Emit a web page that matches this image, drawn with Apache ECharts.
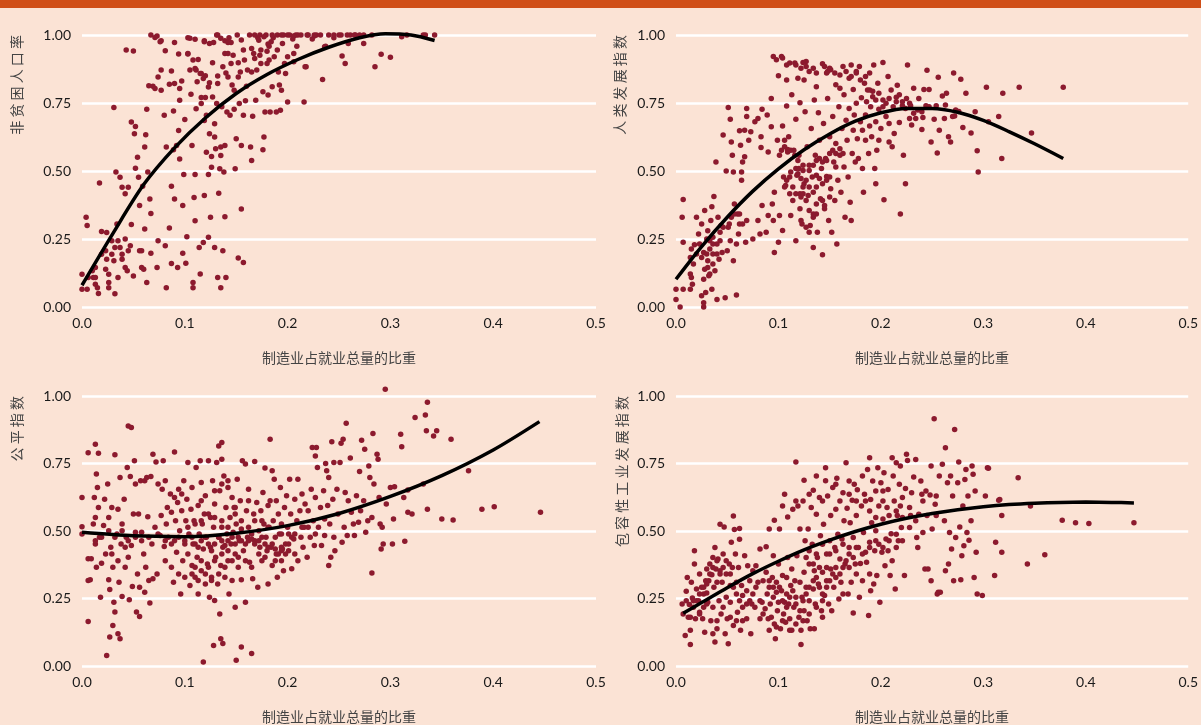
<!DOCTYPE html>
<html><head><meta charset="utf-8">
<script src="https://cdn.jsdelivr.net/npm/echarts@6/dist/echarts.min.js"></script>
<style>html,body{margin:0;padding:0;background:#fbe3d5;}#c{width:1201px;height:725px;}</style>
</head><body><div id="c"></div>
<script>
const xTickLabels = ['0.0','0.1','0.2','0.3','0.4','0.5'];
const yTickLabels = ['0.00','0.25','0.50','0.75','1.00'];
const xAxisTitle = '制造业占就业总量的比重';
const yAxisTitles = ['非贫困人口率','人类发展指数','公平指数','包容性工业发展指数'];

const povertyPts = [[0,0.065],[0.005,0.065],[0,0.12],[0.004,0.33],[0.005,0.30],[0.011,0.108],[0.013,0.145],[0.013,0.084],[0.016,0.05],[0.017,0.456],[0.019,0.278],[0.023,0.139],[0.024,0.274],[0.024,0.176],[0.026,0.09],[0.026,0.071],[0.029,0.244],[0.031,0.17],[0.031,0.733],[0.032,0.049],[0.033,0.496],[0.034,0.305],[0.035,0.108],[0.037,0.477],[0.037,0.219],[0.039,0.44],[0.039,0.176],[0.042,0.416],[0.042,0.25],[0.043,0.945],[0.044,0.133],[0.045,0.44],[0.047,0.225],[0.048,0.68],[0.048,0.303],[0.05,0.941],[0.05,0.114],[0.051,0.637],[0.052,0.664],[0.052,0.51],[0.054,0.551],[0.055,0.477],[0.056,0.373],[0.056,0.207],[0.058,0.145],[0.059,0.444],[0.061,0.287],[0.061,0.588],[0.062,0.633],[0.063,0.727],[0.064,0.496],[0.063,0.09],[0.065,0.813],[0.066,0.397],[0.067,0.344],[0.067,0.198],[0.069,0.812],[0.071,0.803],[0.073,0.996],[0.074,0.846],[0.073,0.145],[0.074,0.244],[0.077,0.797],[0.077,0.979],[0.08,0.705],[0.081,0.942],[0.081,0.225],[0.082,0.588],[0.082,0.071],[0.085,0.29],[0.085,0.819],[0.087,0.868],[0.087,0.444],[0.087,0.16],[0.089,0.721],[0.089,0.578],[0.09,0.397],[0.09,0.972],[0.092,0.594],[0.093,0.145],[0.094,0.649],[0.094,0.93],[0.095,0.544],[0.095,0.803],[0.097,0.831],[0.098,0.198],[0.098,0.373],[0.099,0.487],[0.1,0.689],[0.101,0.161],[0.102,0.258],[0.103,0.99],[0.103,0.93],[0.105,0.871],[0.106,0.782],[0.107,0.594],[0.108,0.09],[0.108,0.071],[0.109,0.403],[0.11,0.487],[0.11,0.877],[0.11,0.317],[0.111,0.729],[0.112,0.828],[0.113,0.91],[0.114,0.219],[0.115,0.121],[0.116,0.77],[0.116,0.858],[0.118,0.237],[0.119,0.979],[0.119,0.41],[0.12,0.77],[0.121,0.705],[0.121,0.569],[0.123,0.256],[0.123,0.487],[0.124,0.824],[0.125,0.33],[0.126,0.514],[0.126,0.553],[0.127,0.898],[0.128,0.972],[0.129,0.219],[0.129,0.674],[0.13,0.582],[0.131,0.748],[0.131,1.0],[0.132,0.849],[0.132,0.108],[0.133,0.418],[0.134,0.508],[0.135,0.557],[0.135,0.071],[0.136,0.736],[0.137,0.207],[0.138,0.496],[0.139,0.932],[0.139,0.594],[0.139,0.332],[0.14,0.108],[0.141,0.717],[0.142,0.846],[0.144,0.705],[0.145,0.972],[0.146,0.816],[0.147,0.926],[0.148,0.727],[0.148,0.797],[0.149,0.508],[0.15,0.619],[0.151,1.0],[0.152,0.18],[0.152,0.898],[0.153,0.748],[0.154,0.864],[0.155,0.594],[0.155,0.36],[0.157,0.705],[0.157,0.164],[0.157,0.945],[0.158,0.908],[0.159,0.758],[0.16,0.812],[0.163,1.0],[0.164,0.588],[0.165,0.539],[0.165,0.864],[0.166,0.701],[0.167,0.932],[0.169,0.76],[0.17,0.871],[0.172,0.981],[0.173,0.926],[0.174,0.895],[0.176,0.578],[0.176,0.791],[0.177,0.625],[0.178,0.717],[0.179,1.0],[0.18,0.895],[0.181,0.779],[0.182,0.959],[0.183,0.717],[0.184,0.975],[0.185,0.81],[0.187,0.92],[0.189,0.717],[0.19,1.0],[0.191,0.864],[0.192,0.816],[0.193,0.723],[0.194,0.797],[0.195,0.969],[0.196,1.0],[0.198,0.858],[0.2,0.754],[0.202,1.0],[0.206,0.902],[0.208,1.0],[0.209,0.959],[0.216,0.754],[0.218,0.883],[0.219,1.0],[0.226,0.996],[0.234,0.836],[0.237,0.959],[0.24,1.0],[0.253,0.923],[0.256,0.895],[0.259,0.969],[0.261,1.0],[0.27,1.0],[0.21,1.0],[0.217,0.883],[0.22,1.0],[0.228,1.0],[0.236,0.957],[0.25,1.0],[0.258,1.0],[0.266,1.0],[0.274,1.0],[0.274,0.969],[0.282,1.0],[0.285,0.883],[0.291,0.929],[0.3,0.918],[0.311,0.994],[0.316,1.0],[0.332,1.0],[0.334,1.0],[0.343,1.0],[0.143,0.99],[0.171,0.99],[0.186,0.99],[0.205,0.985],[0.224,0.985],[0.245,0.99],[0.18,0.94],[0.165,0.95],[0.14,0.86],[0.12,0.85],[0.2,0.92],
[0.067,1.0],[0.071,0.991],[0.076,0.975],[0.105,0.988],[0.11,0.984],[0.119,0.975],[0.124,0.969],[0.132,1.0],[0.135,0.988],[0.139,0.979],[0.142,0.972],[0.155,0.982],[0.168,1.0],[0.173,1.0],[0.177,0.994],[0.181,0.967],[0.185,1.0],[0.194,1.0],[0.2,1.0],[0.206,0.996],[0.213,1.0],[0.226,1.0],[0.232,1.0],[0.245,1.0],[0.252,1.0],[0.265,1.0],[0.103,0.932],[0.108,0.908],[0.111,0.871],[0.115,0.858],[0.118,0.84],[0.123,0.809],[0.127,0.772],[0.132,0.822],[0.137,0.883],[0.142,0.932],[0.145,0.895],[0.152,0.846],[0.161,0.871],[0.168,0.914],[0.174,0.945],[0.182,0.908],[0.19,0.945],[0.197,0.895],[0.206,0.932],[0.119,0.686],[0.124,0.637],[0.129,0.625],[0.135,0.588],[0.116,0.748],[0.09,0.822],[0.077,0.871],[0.095,0.76],[0.006,0.108],[0.01,0.133],[0.013,0.108],[0.015,0.071],[0.019,0.194],[0.023,0.207],[0.026,0.12],[0.029,0.194],[0.032,0.219],[0.035,0.244],[0.039,0.194],[0.042,0.145],[0.045,0.207],[0.058,0.207],[0.06,0.139]];
const povertyFit = [[0,0.08],[0.03,0.27],[0.06,0.45],[0.09,0.585],[0.12,0.695],[0.15,0.785],[0.18,0.855],[0.21,0.91],[0.24,0.955],[0.27,0.99],[0.295,1.005],[0.32,1.0],[0.343,0.98]];

const hdiPts = [[0,0.065],[0,0.028],[0.004,0],[0.007,0.065],[0.006,0.33],[0.007,0.395],[0.007,0.238],[0.014,0.065],[0.014,0.121],[0.015,0.108],[0.015,0.213],[0.016,0.084],[0.018,0.229],[0.02,0.33],[0.022,0.268],[0.025,0.305],[0.025,0.041],[0.027,0],[0.027,0.016],[0.027,0.2],[0.028,0.355],[0.028,0.139],[0.029,0.053],[0.03,0.25],[0.031,0.17],[0.031,0.28],[0.032,0.115],[0.033,0.213],[0.034,0.318],[0.035,0.369],[0.035,0.065],[0.036,0.195],[0.036,0.256],[0.037,0.406],[0.038,0.133],[0.039,0.533],[0.04,0.232],[0.04,0.028],[0.041,0.33],[0.042,0.176],[0.043,0.275],[0.044,0.3],[0.045,0.2],[0.046,0.632],[0.048,0.034],[0.049,0.5],[0.05,0.207],[0.051,0.733],[0.052,0.305],[0.053,0.69],[0.053,0.244],[0.054,0.607],[0.055,0.558],[0.056,0.496],[0.056,0.17],[0.057,0.379],[0.059,0.044],[0.059,0.232],[0.06,0.342],[0.062,0.305],[0.062,0.648],[0.063,0.595],[0.064,0.496],[0.064,0.466],[0.065,0.533],[0.065,0.305],[0.067,0.552],[0.067,0.65],[0.068,0.238],[0.069,0.73],[0.069,0.7],[0.069,0.318],[0.071,0.613],[0.073,0.644],[0.075,0.25],[0.077,0.681],[0.08,0.318],[0.08,0.693],[0.082,0.268],[0.083,0.626],[0.083,0.586],[0.084,0.727],[0.084,0.373],[0.088,0.275],[0.089,0.706],[0.09,0.57],[0.09,0.336],[0.093,0.767],[0.093,0.663],[0.094,0.379],[0.095,0.921],[0.095,0.318],[0.096,0.422],[0.096,0.2],[0.098,0.909],[0.099,0.613],[0.1,0.238],[0.1,0.85],[0.101,0.336],[0.101,0.558],[0.103,0.921],[0.104,0.281],[0.104,0.665],[0.105,0.478],[0.106,0.613],[0.107,0.447],[0.108,0.89],[0.108,0.739],[0.108,0.835],[0.109,0.579],[0.11,0.626],[0.112,0.336],[0.112,0.496],[0.113,0.78],[0.114,0.441],[0.115,0.576],[0.116,0.897],[0.117,0.244],[0.117,0.69],[0.118,0.484],[0.119,0.841],[0.12,0.558],[0.121,0.416],[0.121,0.751],[0.122,0.878],[0.123,0.305],[0.124,0.521],[0.125,0.835],[0.125,0.453],[0.126,0.718],[0.127,0.903],[0.128,0.589],[0.129,0.41],[0.13,0.502],[0.13,0.866],[0.131,0.3],[0.132,0.656],[0.133,0.478],[0.134,0.33],[0.134,0.219],[0.135,0.761],[0.136,0.558],[0.137,0.441],[0.137,0.81],[0.138,0.275],[0.139,0.714],[0.14,0.613],[0.141,0.398],[0.142,0.509],[0.143,0.192],[0.143,0.894],[0.144,0.675],[0.145,0.373],[0.146,0.546],[0.147,0.86],[0.147,0.48],[0.148,0.767],[0.149,0.318],[0.15,0.626],[0.151,0.435],[0.151,0.872],[0.152,0.275],[0.153,0.7],[0.154,0.533],[0.155,0.392],[0.156,0.817],[0.156,0.601],[0.157,0.232],[0.158,0.466],[0.159,0.736],[0.16,0.558],[0.16,0.804],[0.161,0.422],[0.162,0.656],[0.163,0.884],[0.164,0.515],[0.164,0.78],[0.165,0.33],[0.166,0.687],[0.167,0.613],[0.168,0.478],[0.169,0.841],[0.169,0.73],[0.17,0.385],[0.171,0.318],[0.171,0.89],[0.172,0.564],[0.173,0.65],[0.173,0.8],[0.174,0.706],[0.175,0.533],[0.176,0.866],[0.176,0.749],[0.177,0.619],[0.178,0.546],[0.179,0.884],[0.18,0.681],[0.181,0.769],[0.182,0.509],[0.182,0.65],[0.183,0.422],[0.184,0.823],[0.185,0.613],[0.185,0.706],[0.186,0.755],[0.187,0.798],[0.188,0.564],[0.189,0.86],[0.189,0.665],[0.19,0.736],[0.191,0.626],[0.192,0.793],[0.193,0.89],[0.194,0.509],[0.195,0.453],[0.195,0.681],[0.196,0.576],[0.197,0.823],[0.198,0.727],[0.198,0.613],[0.2,0.656],[0.202,0.761],[0.202,0.899],[0.203,0.394],[0.205,0.7],[0.207,0.847],[0.208,0.607],[0.208,0.675],[0.21,0.798],[0.211,0.589],[0.212,0.736],[0.213,0.638],[0.215,0.771],[0.216,0.815],[0.218,0.678],[0.219,0.342],[0.221,0.74],[0.222,0.558],[0.224,0.453],[0.225,0.767],[0.226,0.89],[0.228,0.693],[0.229,0.74],[0.23,0.669],[0.232,0.804],[0.234,0.693],[0.237,0.767],[0.24,0.653],[0.241,0.697],[0.242,0.8],[0.244,0.74],[0.245,0.87],[0.247,0.8],[0.249,0.607],[0.252,0.69],[0.254,0.74],[0.255,0.566],[0.256,0.845],[0.257,0.65],[0.26,0.776],[0.262,0.693],[0.264,0.786],[0.266,0.626],[0.268,0.607],[0.271,0.86],[0.272,0.702],[0.276,0.719],[0.278,0.837],[0.28,0.66],[0.283,0.786],[0.288,0.64],[0.292,0.718],[0.294,0.574],[0.295,0.496],[0.303,0.808],[0.305,0.681],[0.315,0.7],[0.318,0.546],[0.319,0.786],[0.335,0.808],[0.347,0.64],[0.378,0.808],
[0.103,0.576],[0.106,0.589],[0.109,0.57],[0.112,0.576],[0.116,0.558],[0.119,0.539],[0.117,0.509],[0.12,0.509],[0.124,0.502],[0.119,0.49],[0.122,0.472],[0.127,0.466],[0.13,0.521],[0.134,0.521],[0.137,0.539],[0.14,0.546],[0.143,0.533],[0.147,0.539],[0.15,0.564],[0.153,0.576],[0.156,0.564],[0.16,0.582],[0.163,0.564],[0.156,0.515],[0.137,0.484],[0.14,0.472],[0.143,0.453],[0.147,0.466],[0.15,0.478],[0.13,0.441],[0.134,0.422],[0.124,0.441],[0.117,0.416],[0.122,0.404],[0.127,0.392],[0.137,0.379],[0.143,0.392],[0.13,0.355],[0.137,0.342],[0.145,0.361],[0.15,0.404],[0.111,0.478],[0.108,0.466],[0.106,0.441],[0.111,0.416],[0.114,0.392],[0.121,0.361],[0.122,0.318],[0.127,0.293],[0.13,0.275],[0.134,0.342],[0.124,0.416],[0.104,0.915],[0.111,0.897],[0.117,0.89],[0.124,0.899],[0.127,0.884],[0.134,0.878],[0.137,0.86],[0.145,0.884],[0.148,0.866],[0.15,0.878],[0.155,0.86],[0.16,0.853],[0.166,0.866],[0.171,0.847],[0.176,0.86],[0.18,0.835],[0.185,0.847],[0.189,0.798],[0.192,0.773],[0.195,0.761],[0.198,0.786],[0.202,0.736],[0.205,0.749],[0.208,0.767],[0.215,0.755],[0.218,0.78],[0.221,0.755],[0.224,0.73],[0.228,0.749],[0.232,0.712],[0.236,0.724],[0.24,0.718],[0.247,0.736],[0.263,0.743],[0.27,0.7],[0.273,0.724],[0.014,0.182],[0.017,0.158],[0.02,0.195],[0.023,0.232],[0.025,0.182],[0.03,0.195],[0.033,0.244],[0.036,0.232],[0.04,0.195],[0.043,0.244],[0.046,0.293],[0.051,0.293],[0.054,0.33],[0.057,0.342],[0.061,0.268],[0.062,0.342],[0.036,0.158],[0.031,0.145],[0.033,0.121],[0.027,0.102]];
const hdiFit = [[0,0.102],[0.025,0.222],[0.05,0.33],[0.075,0.426],[0.1,0.508],[0.125,0.578],[0.15,0.636],[0.175,0.683],[0.2,0.714],[0.225,0.73],[0.25,0.73],[0.275,0.716],[0.3,0.686],[0.325,0.645],[0.35,0.6],[0.378,0.546]];

const equityPts = [[0,0.516],[0,0.624],[0,0.489],[0.006,0.79],[0.006,0.397],[0.006,0.317],[0.006,0.165],[0.008,0.319],[0.009,0.397],[0.011,0.526],[0.012,0.624],[0.013,0.821],[0.013,0.55],[0.013,0.452],[0.014,0.711],[0.014,0.366],[0.015,0.661],[0.016,0.788],[0.016,0.587],[0.017,0.477],[0.018,0.255],[0.019,0.381],[0.021,0.52],[0.022,0.618],[0.023,0.415],[0.024,0.039],[0.025,0.674],[0.026,0.55],[0.026,0.319],[0.027,0.283],[0.027,0.107],[0.028,0.44],[0.029,0.587],[0.03,0.366],[0.03,0.15],[0.031,0.236],[0.032,0.782],[0.032,0.2],[0.034,0.489],[0.035,0.581],[0.035,0.119],[0.036,0.31],[0.037,0.101],[0.037,0.698],[0.038,0.452],[0.039,0.257],[0.039,0.526],[0.041,0.618],[0.042,0.366],[0.043,0.477],[0.044,0.735],[0.045,0.889],[0.045,0.403],[0.046,0.245],[0.047,0.702],[0.048,0.883],[0.048,0.446],[0.049,0.294],[0.05,0.563],[0.051,0.76],[0.052,0.495],[0.052,0.674],[0.053,0.2],[0.054,0.341],[0.055,0.563],[0.056,0.183],[0.056,0.292],[0.057,0.686],[0.058,0.495],[0.06,0.415],[0.061,0.686],[0.061,0.273],[0.062,0.366],[0.063,0.698],[0.064,0.553],[0.065,0.317],[0.066,0.233],[0.067,0.702],[0.068,0.452],[0.069,0.784],[0.069,0.323],[0.071,0.514],[0.072,0.756],[0.073,0.341],[0.074,0.674],[0.076,0.483],[0.077,0.557],[0.078,0.655],[0.079,0.76],[0.08,0.443],[0.081,0.686],[0.081,0.39],[0.082,0.526],[0.083,0.587],[0.084,0.477],[0.086,0.637],[0.087,0.366],[0.087,0.569],[0.089,0.31],[0.09,0.793],[0.09,0.464],[0.091,0.538],[0.092,0.421],[0.093,0.606],[0.094,0.655],[0.094,0.341],[0.095,0.501],[0.096,0.267],[0.097,0.575],[0.098,0.39],[0.099,0.686],[0.1,0.452],[0.1,0.329],[0.101,0.538],[0.102,0.618],[0.103,0.415],[0.103,0.754],[0.104,0.489],[0.105,0.298],[0.106,0.581],[0.107,0.372],[0.107,0.661],[0.108,0.452],[0.109,0.538],[0.11,0.329],[0.111,0.735],[0.112,0.403],[0.113,0.267],[0.113,0.594],[0.114,0.489],[0.115,0.76],[0.116,0.353],[0.116,0.68],[0.117,0.526],[0.118,0.015],[0.118,0.433],[0.119,0.563],[0.12,0.304],[0.12,0.631],[0.121,0.477],[0.122,0.378],[0.123,0.76],[0.124,0.255],[0.125,0.55],[0.125,0.44],[0.126,0.329],[0.127,0.686],[0.128,0.076],[0.128,0.514],[0.129,0.243],[0.129,0.6],[0.13,0.403],[0.131,0.754],[0.132,0.304],[0.133,0.815],[0.133,0.477],[0.134,0.193],[0.134,0.649],[0.135,0.101],[0.135,0.372],[0.136,0.828],[0.136,0.538],[0.136,0.766],[0.137,0.083],[0.137,0.44],[0.138,0.704],[0.139,0.329],[0.14,0.587],[0.141,0.489],[0.142,0.661],[0.142,0.39],[0.143,0.267],[0.144,0.55],[0.145,0.452],[0.146,0.317],[0.146,0.624],[0.147,0.495],[0.148,0.587],[0.149,0.415],[0.149,0.218],[0.15,0.021],[0.15,0.526],[0.151,0.692],[0.152,0.366],[0.153,0.464],[0.154,0.612],[0.155,0.319],[0.155,0.07],[0.155,0.507],[0.156,0.76],[0.157,0.427],[0.159,0.236],[0.159,0.748],[0.16,0.575],[0.161,0.477],[0.162,0.655],[0.163,0.384],[0.165,0.046],[0.165,0.489],[0.166,0.323],[0.167,0.563],[0.168,0.757],[0.168,0.464],[0.17,0.606],[0.171,0.292],[0.172,0.501],[0.173,0.44],[0.174,0.575],[0.175,0.39],[0.176,0.643],[0.177,0.526],[0.178,0.733],[0.179,0.477],[0.18,0.427],[0.181,0.594],[0.181,0.304],[0.182,0.514],[0.183,0.84],[0.183,0.612],[0.184,0.44],[0.185,0.723],[0.185,0.372],[0.186,0.538],[0.187,0.692],[0.188,0.477],[0.189,0.612],[0.189,0.415],[0.19,0.329],[0.191,0.563],[0.192,0.489],[0.193,0.661],[0.194,0.39],[0.194,0.526],[0.195,0.433],[0.196,0.353],[0.197,0.587],[0.198,0.452],[0.199,0.631],[0.2,0.514],[0.201,0.427],[0.202,0.692],[0.203,0.563],[0.204,0.36],[0.206,0.47],[0.207,0.618],[0.207,0.415],[0.209,0.538],[0.21,0.692],[0.21,0.39],[0.212,0.575],[0.213,0.477],[0.214,0.637],[0.215,0.44],[0.216,0.514],[0.217,0.6],[0.219,0.403],[0.22,0.575],[0.222,0.477],[0.223,0.655],[0.224,0.809],[0.225,0.538],[0.226,0.446],[0.227,0.778],[0.227,0.624],[0.228,0.809],[0.229,0.735],[0.23,0.514],[0.232,0.587],[0.233,0.446],[0.235,0.649],[0.236,0.483],[0.236,0.544],[0.237,0.75],[0.238,0.723],[0.239,0.594],[0.24,0.372],[0.24,0.698],[0.241,0.526],[0.242,0.403],[0.243,0.831],[0.244,0.618],[0.245,0.754],[0.245,0.477],[0.246,0.427],[0.248,0.655],[0.249,0.563],[0.251,0.754],[0.252,0.825],[0.253,0.458],[0.254,0.84],[0.255,0.514],[0.256,0.643],[0.257,0.899],[0.258,0.483],[0.259,0.612],[0.261,0.77],[0.262,0.569],[0.264,0.526],[0.265,0.483],[0.267,0.631],[0.269,0.532],[0.27,0.72],[0.271,0.575],[0.272,0.836],[0.274,0.612],[0.275,0.803],[0.276,0.495],[0.278,0.538],[0.279,0.741],[0.28,0.698],[0.282,0.344],[0.282,0.55],[0.283,0.861],[0.284,0.674],[0.287,0.784],[0.288,0.766],[0.289,0.624],[0.29,0.526],[0.291,0.433],[0.292,0.514],[0.293,0.452],[0.295,1.025],[0.296,0.6],[0.3,0.661],[0.302,0.452],[0.303,0.544],[0.304,0.664],[0.31,0.858],[0.311,0.812],[0.313,0.624],[0.314,0.462],[0.317,0.569],[0.317,0.652],[0.321,0.563],[0.324,0.92],[0.332,0.674],[0.334,0.93],[0.335,0.871],[0.336,0.977],[0.336,0.581],[0.342,0.852],[0.345,0.871],[0.35,0.544],[0.359,0.84],[0.361,0.541],[0.376,0.723],[0.389,0.581],[0.401,0.59],[0.446,0.569],
[0.094,0.477],[0.1,0.464],[0.107,0.477],[0.11,0.452],[0.113,0.44],[0.116,0.464],[0.12,0.477],[0.123,0.452],[0.126,0.427],[0.129,0.452],[0.133,0.477],[0.136,0.464],[0.139,0.446],[0.142,0.464],[0.146,0.477],[0.149,0.452],[0.152,0.477],[0.155,0.464],[0.159,0.452],[0.162,0.464],[0.165,0.47],[0.168,0.452],[0.172,0.464],[0.175,0.477],[0.178,0.452],[0.181,0.44],[0.185,0.452],[0.188,0.433],[0.191,0.415],[0.194,0.44],[0.198,0.415],[0.201,0.452],[0.204,0.477],[0.207,0.489],[0.142,0.427],[0.136,0.415],[0.129,0.39],[0.123,0.366],[0.116,0.39],[0.11,0.366],[0.107,0.341],[0.113,0.317],[0.12,0.341],[0.126,0.317],[0.133,0.341],[0.139,0.366],[0.146,0.39],[0.152,0.403],[0.159,0.39],[0.165,0.366],[0.172,0.415],[0.178,0.403],[0.188,0.39],[0.194,0.427],[0.103,0.514],[0.11,0.526],[0.116,0.538],[0.123,0.563],[0.129,0.55],[0.136,0.514],[0.142,0.514],[0.149,0.563],[0.155,0.538],[0.162,0.514],[0.168,0.538],[0.175,0.538],[0.181,0.514],[0.194,0.489],[0.201,0.489],[0.214,0.514],[0.22,0.514],[0.227,0.489],[0.09,0.624],[0.097,0.637],[0.116,0.612],[0.129,0.649],[0.136,0.674],[0.142,0.686],[0.149,0.587],[0.162,0.612],[0.026,0.501],[0.032,0.477],[0.039,0.501],[0.045,0.464],[0.052,0.477],[0.013,0.464],[0.019,0.477],[0.029,0.415],[0.035,0.39],[0.042,0.44],[0.058,0.464],[0.065,0.477],[0.074,0.489],[0.081,0.464],[0.087,0.452]];
const equityFit = [[0,0.495],[0.05,0.482],[0.1,0.479],[0.15,0.492],[0.2,0.52],[0.25,0.565],[0.3,0.628],[0.35,0.705],[0.4,0.8],[0.445,0.905]];

const iidPts = [[0.006,0.23],[0.007,0.193],[0.009,0.113],[0.01,0.277],[0.01,0.242],[0.011,0.328],[0.012,0.181],[0.013,0.228],[0.014,0.132],[0.014,0.08],[0.015,0.31],[0.016,0.252],[0.017,0.218],[0.018,0.378],[0.018,0.427],[0.019,0.175],[0.02,0.285],[0.022,0.242],[0.023,0.341],[0.023,0.199],[0.025,0.292],[0.026,0.175],[0.027,0.267],[0.027,0.218],[0.028,0.125],[0.029,0.316],[0.03,0.27],[0.03,0.359],[0.031,0.236],[0.032,0.316],[0.033,0.378],[0.034,0.168],[0.035,0.338],[0.036,0.119],[0.036,0.402],[0.037,0.292],[0.038,0.439],[0.038,0.089],[0.039,0.359],[0.04,0.31],[0.04,0.138],[0.041,0.396],[0.042,0.242],[0.043,0.525],[0.043,0.353],[0.044,0.193],[0.045,0.31],[0.046,0.415],[0.047,0.515],[0.048,0.119],[0.049,0.255],[0.049,0.341],[0.05,0.175],[0.051,0.082],[0.052,0.378],[0.053,0.236],[0.053,0.298],[0.054,0.458],[0.055,0.365],[0.056,0.556],[0.056,0.15],[0.057,0.506],[0.058,0.415],[0.059,0.31],[0.06,0.199],[0.061,0.365],[0.062,0.469],[0.062,0.509],[0.063,0.132],[0.064,0.298],[0.065,0.261],[0.065,0.168],[0.067,0.408],[0.069,0.23],[0.069,0.175],[0.07,0.371],[0.072,0.316],[0.073,0.119],[0.074,0.23],[0.075,0.353],[0.077,0.218],[0.078,0.371],[0.08,0.31],[0.082,0.175],[0.082,0.433],[0.084,0.236],[0.085,0.316],[0.087,0.212],[0.088,0.442],[0.088,0.347],[0.089,0.267],[0.09,0.175],[0.091,0.507],[0.091,0.292],[0.092,0.23],[0.093,0.181],[0.094,0.328],[0.095,0.255],[0.095,0.408],[0.096,0.156],[0.096,0.54],[0.097,0.101],[0.098,0.31],[0.099,0.205],[0.1,0.378],[0.1,0.236],[0.101,0.507],[0.102,0.138],[0.103,0.279],[0.104,0.593],[0.104,0.335],[0.105,0.193],[0.106,0.636],[0.106,0.236],[0.107,0.162],[0.108,0.328],[0.108,0.267],[0.109,0.552],[0.109,0.402],[0.11,0.23],[0.111,0.175],[0.112,0.298],[0.113,0.359],[0.113,0.132],[0.114,0.581],[0.115,0.218],[0.116,0.316],[0.117,0.255],[0.117,0.756],[0.118,0.408],[0.119,0.593],[0.12,0.181],[0.121,0.31],[0.121,0.507],[0.122,0.132],[0.122,0.08],[0.123,0.255],[0.124,0.611],[0.125,0.347],[0.125,0.688],[0.125,0.205],[0.126,0.464],[0.127,0.292],[0.128,0.168],[0.129,0.507],[0.13,0.378],[0.13,0.242],[0.131,0.138],[0.132,0.587],[0.133,0.451],[0.134,0.285],[0.134,0.651],[0.135,0.353],[0.135,0.138],[0.136,0.23],[0.137,0.562],[0.137,0.704],[0.138,0.402],[0.139,0.304],[0.14,0.624],[0.141,0.482],[0.142,0.205],[0.143,0.347],[0.143,0.181],[0.144,0.525],[0.145,0.261],[0.146,0.686],[0.146,0.734],[0.147,0.415],[0.147,0.316],[0.148,0.63],[0.149,0.23],[0.15,0.464],[0.151,0.557],[0.151,0.359],[0.152,0.205],[0.153,0.661],[0.154,0.292],[0.155,0.439],[0.156,0.581],[0.156,0.328],[0.157,0.695],[0.158,0.488],[0.159,0.248],[0.16,0.396],[0.16,0.611],[0.161,0.31],[0.162,0.47],[0.163,0.642],[0.163,0.267],[0.164,0.538],[0.165,0.378],[0.166,0.753],[0.167,0.584],[0.168,0.267],[0.169,0.685],[0.169,0.439],[0.17,0.531],[0.171,0.31],[0.172,0.614],[0.173,0.196],[0.173,0.476],[0.174,0.673],[0.175,0.378],[0.176,0.557],[0.176,0.341],[0.177,0.653],[0.178,0.439],[0.179,0.255],[0.18,0.38],[0.181,0.593],[0.182,0.316],[0.182,0.704],[0.183,0.494],[0.184,0.636],[0.185,0.421],[0.185,0.611],[0.186,0.384],[0.187,0.728],[0.188,0.187],[0.189,0.771],[0.189,0.341],[0.189,0.458],[0.19,0.617],[0.19,0.279],[0.191,0.531],[0.192,0.685],[0.193,0.304],[0.194,0.427],[0.195,0.501],[0.195,0.648],[0.196,0.335],[0.197,0.734],[0.198,0.451],[0.198,0.593],[0.199,0.236],[0.2,0.679],[0.201,0.421],[0.202,0.544],[0.202,0.648],[0.203,0.716],[0.204,0.371],[0.205,0.47],[0.206,0.587],[0.207,0.427],[0.207,0.654],[0.208,0.557],[0.209,0.335],[0.21,0.49],[0.211,0.771],[0.211,0.39],[0.212,0.704],[0.213,0.611],[0.214,0.285],[0.215,0.439],[0.215,0.753],[0.216,0.557],[0.217,0.464],[0.218,0.673],[0.219,0.741],[0.219,0.593],[0.22,0.513],[0.221,0.624],[0.223,0.335],[0.224,0.657],[0.225,0.784],[0.226,0.761],[0.228,0.587],[0.229,0.557],[0.23,0.642],[0.232,0.7],[0.234,0.765],[0.235,0.476],[0.236,0.439],[0.237,0.562],[0.239,0.685],[0.24,0.636],[0.241,0.494],[0.241,0.611],[0.243,0.359],[0.244,0.648],[0.245,0.557],[0.246,0.359],[0.248,0.633],[0.249,0.316],[0.249,0.741],[0.25,0.507],[0.252,0.916],[0.253,0.599],[0.254,0.63],[0.254,0.557],[0.255,0.267],[0.256,0.273],[0.257,0.704],[0.258,0.273],[0.26,0.747],[0.262,0.538],[0.263,0.808],[0.263,0.353],[0.265,0.679],[0.266,0.378],[0.267,0.494],[0.268,0.704],[0.269,0.433],[0.27,0.63],[0.271,0.316],[0.272,0.876],[0.273,0.476],[0.275,0.679],[0.276,0.756],[0.277,0.515],[0.278,0.319],[0.279,0.408],[0.28,0.593],[0.281,0.445],[0.282,0.691],[0.283,0.728],[0.284,0.494],[0.285,0.63],[0.286,0.466],[0.288,0.538],[0.289,0.741],[0.29,0.71],[0.291,0.328],[0.292,0.648],[0.293,0.421],[0.294,0.267],[0.299,0.261],[0.302,0.63],[0.304,0.734],[0.305,0.732],[0.311,0.335],[0.312,0.458],[0.315,0.614],[0.316,0.617],[0.318,0.421],[0.318,0.557],[0.334,0.697],[0.343,0.378],[0.346,0.593],[0.36,0.412],[0.377,0.54],[0.39,0.531],[0.403,0.528],[0.447,0.531],
[0.091,0.316],[0.095,0.292],[0.098,0.273],[0.101,0.292],[0.104,0.242],[0.108,0.218],[0.111,0.255],[0.114,0.279],[0.117,0.23],[0.121,0.205],[0.124,0.242],[0.127,0.267],[0.13,0.292],[0.134,0.316],[0.137,0.328],[0.14,0.292],[0.143,0.267],[0.147,0.292],[0.15,0.316],[0.153,0.341],[0.156,0.365],[0.16,0.341],[0.163,0.365],[0.166,0.39],[0.169,0.365],[0.173,0.402],[0.143,0.242],[0.137,0.218],[0.13,0.193],[0.124,0.168],[0.117,0.156],[0.111,0.132],[0.104,0.168],[0.098,0.144],[0.091,0.132],[0.147,0.365],[0.14,0.365],[0.134,0.378],[0.127,0.402],[0.13,0.427],[0.137,0.415],[0.143,0.451],[0.15,0.415],[0.156,0.427],[0.163,0.451],[0.169,0.415],[0.176,0.439],[0.182,0.415],[0.189,0.439],[0.195,0.464],[0.202,0.439],[0.208,0.464],[0.215,0.488],[0.221,0.464],[0.228,0.513],[0.234,0.538],[0.02,0.242],[0.023,0.267],[0.027,0.292],[0.03,0.304],[0.033,0.341],[0.036,0.365],[0.04,0.39],[0.043,0.341],[0.046,0.365],[0.049,0.39],[0.053,0.341],[0.056,0.292],[0.059,0.267],[0.062,0.242],[0.065,0.218],[0.069,0.279],[0.072,0.242],[0.075,0.267],[0.078,0.292],[0.082,0.242],[0.085,0.193],[0.014,0.181],[0.017,0.242],[0.023,0.193],[0.03,0.23],[0.036,0.218],[0.04,0.168],[0.046,0.218],[0.053,0.181],[0.059,0.168],[0.117,0.611],[0.13,0.636],[0.143,0.611],[0.156,0.673],[0.169,0.636],[0.176,0.611],[0.189,0.574],[0.195,0.55],[0.202,0.611],[0.215,0.574],[0.221,0.55]];
const iidFit = [[0.007,0.195],[0.025,0.235],[0.05,0.29],[0.075,0.342],[0.1,0.388],[0.125,0.43],[0.15,0.466],[0.175,0.498],[0.2,0.525],[0.225,0.547],[0.25,0.565],[0.275,0.579],[0.3,0.59],[0.325,0.598],[0.35,0.603],[0.375,0.606],[0.4,0.607],[0.425,0.606],[0.447,0.604]];

const panelPts = [povertyPts, hdiPts, equityPts, iidPts];
const panelFits = [povertyFit, hdiFit, equityFit, iidFit];

const BG = '#fbe3d5';
const DOT = '#8c1a2e';
const gridBoxes = [
  {left: 82, top: 35, width: 514, height: 272},
  {left: 676, top: 35, width: 514, height: 272},
  {left: 82, top: 396, width: 514, height: 271},
  {left: 676, top: 396, width: 514, height: 271}
];
const yNamePos = [[17, 35], [620, 35], [17, 396], [622, 396]];

const chart = echarts.init(document.getElementById('c'), null, {renderer: 'canvas'});
const grids = [], xAxes = [], yAxes = [], series = [], graphics = [];
gridBoxes.forEach((g, i) => {
  grids.push(Object.assign({containLabel: false}, g));
  xAxes.push({
    gridIndex: i, type: 'value', min: 0, max: 0.5, interval: 0.1,
    name: xAxisTitle, nameLocation: 'middle', nameGap: 44,
    nameTextStyle: {fontFamily: 'Noto Sans CJK SC', fontSize: 14, color: '#444'},
    axisLine: {show: false}, axisTick: {show: false}, splitLine: {show: false},
    axisLabel: {margin: 9, fontFamily: 'Lato', fontSize: 14, color: '#1a1a1a',
      formatter: v => xTickLabels[Math.round(v * 10)]}
  });
  yAxes.push({
    gridIndex: i, type: 'value', min: 0, max: 1, interval: 0.25,
    axisLine: {show: false}, axisTick: {show: false},
    splitLine: {show: true, lineStyle: {color: '#ffffff', width: 2.5}},
    axisLabel: {margin: 11, fontFamily: 'Lato', fontSize: 14, color: '#1a1a1a',
      formatter: v => yTickLabels[Math.round(v * 4)]}
  });
  series.push({
    type: 'scatter', xAxisIndex: i, yAxisIndex: i, data: panelPts[i],
    symbolSize: 5.5, itemStyle: {color: DOT, opacity: 1}, clip: false, z: 2
  });
  series.push({
    type: 'line', xAxisIndex: i, yAxisIndex: i, data: panelFits[i],
    smooth: 0.3, showSymbol: false, symbol: 'none',
    lineStyle: {color: '#000', width: 3.5}, z: 3, clip: false
  });
  graphics.push({
    type: 'text', x: yNamePos[i][0], y: yNamePos[i][1], rotation: Math.PI / 2,
    style: {text: yAxisTitles[i].split('').join(' '), fontFamily: 'Noto Sans CJK SC', fontSize: 14,
      fill: '#444', textAlign: 'right', textVerticalAlign: 'middle'}
  });
});
graphics.push({type: 'rect', shape: {x: 0, y: 0, width: 1201, height: 8}, style: {fill: '#d04f18'}});

chart.setOption({
  backgroundColor: BG,
  animation: false,
  grid: grids, xAxis: xAxes, yAxis: yAxes, series: series, graphic: graphics
});
</script></body></html>
